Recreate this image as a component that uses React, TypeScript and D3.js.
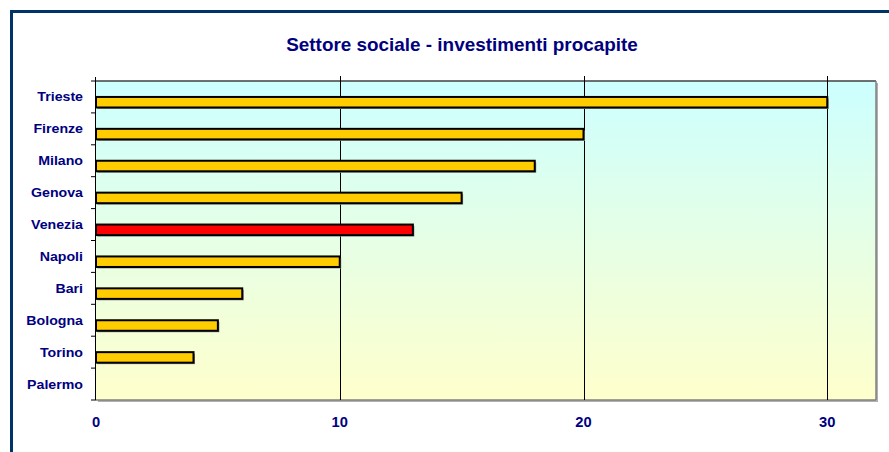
import React from "react";
import * as d3 from "d3";

const categories = ["Trieste", "Firenze", "Milano", "Genova", "Venezia", "Napoli", "Bari", "Bologna", "Torino", "Palermo"];
const values = [30, 20, 18, 15, 13, 10, 6, 5, 4, 0];
const highlight = ["Venezia"];
const xTicks = [0, 10, 20, 30];
const title = "Settore sociale - investimenti procapite";

const W = 889, H = 452;
const L = 96, R = 876, T = 81, B = 400;

export default function App() {
  const x = d3.scaleLinear().domain([0, 32]).range([L, R]);
  const y = d3.scaleBand<string>().domain(categories).range([T, B]).padding(0);
  const step = y.step();
  const barH = step * 0.33;
  const font = "'Liberation Sans', Arial, sans-serif";
  const navy = "#000080";
  return (
    <svg width={W} height={H} style={{ position: "absolute", left: 0, top: 0, display: "block", background: "#fff" }}>
      <defs>
        <linearGradient id="bg" x1="0" y1="0" x2="0" y2="1">
          <stop offset="0" stopColor="#CCFFFF" />
          <stop offset="1" stopColor="#FFFFCC" />
        </linearGradient>
      </defs>
      <rect x={11.5} y={11.5} width={W + 20} height={H + 20} fill="none" stroke="#003366" strokeWidth={3} />
      <text transform={`translate(462,51) scale(1.05,1)`} textAnchor="middle" fontFamily={font} fontWeight="bold" fontSize={18} fill={navy}>{title}</text>
      <rect x={L + 2} y={T + 2} width={R - L} height={B - T} fill="#B0B0B0" />
      <rect x={L} y={T} width={R - L} height={B - T} fill="url(#bg)" />
      <line x1={L} x2={R} y1={T} y2={T} stroke="#404040" strokeWidth={1.5} />
      <line x1={R} x2={R} y1={T} y2={B} stroke="#808080" strokeWidth={1.5} />
      <line x1={L} x2={R} y1={B} y2={B} stroke="#808080" strokeWidth={1.5} />
      {xTicks.filter(t => t > 0).map(t => (
        <line key={t} x1={Math.round(x(t)) + 0.5} x2={Math.round(x(t)) + 0.5} y1={T - 5} y2={B} stroke="#000" strokeWidth={1} />
      ))}
      {categories.map((c, i) => {
        const v = values[i];
        const y0 = (y(c) as number) + step / 2;
        const fill = highlight.includes(c) ? "#FF0000" : "#FFCC00";
        return v > 0 ? (
          <g key={c}>
            <rect x={x(0) + 1.5} y={y0 + 1.5} width={x(v) - x(0)} height={barH} fill="#909090" />
            <rect x={x(0)} y={y0} width={x(v) - x(0)} height={barH} fill={fill} stroke="#000" strokeWidth={2} />
          </g>
        ) : null;
      })}
      <line x1={L - 0.5} x2={L - 0.5} y1={T - 4} y2={B} stroke="#000" strokeWidth={1} />
      {d3.range(categories.length + 1).map(i => (
        <line key={i} x1={L - 5} x2={L} y1={T + i * step} y2={T + i * step} stroke="#000" strokeWidth={1} />
      ))}
      {categories.map(c => (
        <text key={c} transform={`translate(83,${(y(c) as number) + step / 2 + 4.5}) scale(1.05,1)`} textAnchor="end" fontFamily={font} fontWeight="bold" fontSize={13.5} fill={navy}>{c}</text>
      ))}
      {xTicks.map(t => (
        <text key={t} transform={`translate(${x(t)},427) scale(1.05,1)`} textAnchor="middle" fontFamily={font} fontWeight="bold" fontSize={14} fill={navy}>{t}</text>
      ))}
    </svg>
  );
}
